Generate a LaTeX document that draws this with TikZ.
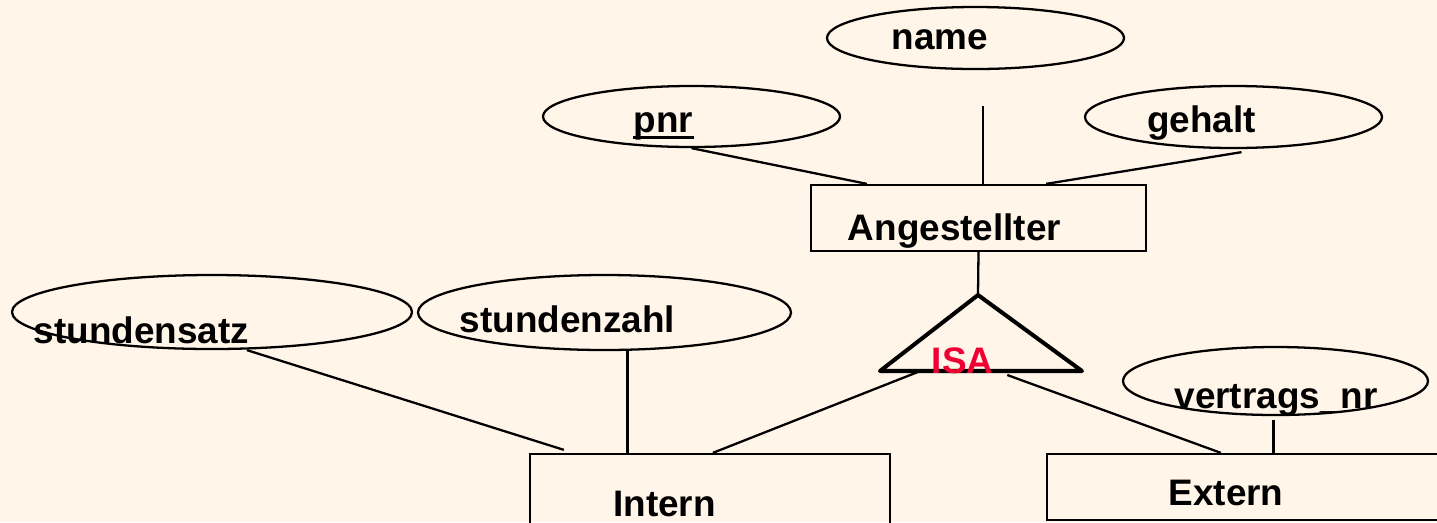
\documentclass[tikz,border=0pt]{standalone}
\usepackage{fontspec}
\setmainfont{Liberation Sans}
\usetikzlibrary{calc,shapes.geometric}
\definecolor{paper}{RGB}{255,245,232}
\definecolor{isared}{RGB}{240,0,50}
\def\pxu{0.02cm}
\tikzset{
  attr/.style={draw, ellipse, line width=1.3pt, inner sep=0pt},
  ent/.style={draw, rectangle, line width=1.3pt, inner sep=0pt},
  lbl/.style={anchor=base, inner sep=0pt, font=\fontsize{21}{25}\selectfont\bfseries},
  conn/.style={line width=1.3pt}
}

\begin{document}
\begin{tikzpicture}[x=0.02cm, y=-0.02cm]
	\fill[paper] (0,0) rectangle (1437,522);
	\clip (0,0) rectangle (1437,522);

	\node[attr, minimum width=297*\pxu, minimum height=62*\pxu] (name) at (975.5,38) {};
	\node[attr, minimum width=297*\pxu, minimum height=61*\pxu] (pnr) at (691.5,116.5) {};
	\node[attr, minimum width=297*\pxu, minimum height=62*\pxu] (gehalt) at (1233.5,117) {};
	\node[attr, minimum width=400*\pxu, minimum height=74*\pxu] (satz) at (212,312) {};
	\node[attr, minimum width=373*\pxu, minimum height=75*\pxu] (zahl) at (604.5,312.5) {};
	\node[attr, minimum width=305*\pxu, minimum height=68*\pxu] (vert) at (1275.5,381) {};

	\node[ent, minimum width=335*\pxu, minimum height=66*\pxu] (ang) at (978.5,218) {};
	\node[ent, minimum width=360*\pxu, minimum height=76*\pxu] (intern) at (710,492) {};
	\node[ent, minimum width=398*\pxu, minimum height=66*\pxu] (extern) at (1246,487) {};

	\coordinate (isa-top) at (978,295);
	\coordinate (isa-left) at (880,371);
	\coordinate (isa-right) at (1082,371);
	\coordinate (name-foot) at (983,106);
	\draw[line width=2.3pt, line join=round] (isa-left) -- (isa-top) -- (isa-right) -- cycle;

	\draw[conn] (name-foot) -- (name-foot |- ang.north);
	\draw[conn] (pnr.south) -- ($(ang.north west)+(57,0)$);
	\draw[conn] ($(gehalt.south)+(8,3)$) -- ($(ang.north east)+(-101,0)$);
	\draw[conn] (ang.south) -- (isa-top);
	\draw[conn] ($(satz.south)+(35,0)$) -- ($(intern.north west)+(35,-3)$);
	\draw[conn] ($(zahl.south)+(23,0)$) coordinate (zahl-foot) -- (zahl-foot |- intern.north);
	\draw[conn] ($(isa-left)!0.2!(isa-right)$) -- ($(intern.north west)+(184,0)$);
	\draw[conn] ($(isa-left)!0.63!(isa-right)+(0,4)$) -- ($(extern.north west)+(175,0)$);
	\draw[conn] ($(vert.south)+(-2,4)$) coordinate (vert-foot) -- (vert-foot |- extern.north);

	\node[lbl] (name-t) at (940,49) {name};
	\node[lbl] (pnr-t) at (663.5,132) {pnr};
	\draw[line width=1.7pt] ($(pnr-t.base west)+(0,5)$) -- ($(pnr-t.base east)+(0,5)$);
	\node[lbl] (gehalt-t) at (1201.5,132) {gehalt};
	\node[lbl] (ang-t) at (954.5,240) {Angestellter};
	\node[lbl] (satz-t) at (141.5,343) {stundensatz};
	\node[lbl] (zahl-t) at (567.5,332) {stundenzahl};
	\node[lbl, text=isared] (isa-t) at (962.5,373) {ISA};
	\node[lbl] (vert-t) at (1276,408) {vertrags\_nr};
	\node[lbl] (intern-t) at (664.5,516) {Intern};
	\node[lbl] (extern-t) at (1226,505) {Extern};
\end{tikzpicture}
\end{document}
